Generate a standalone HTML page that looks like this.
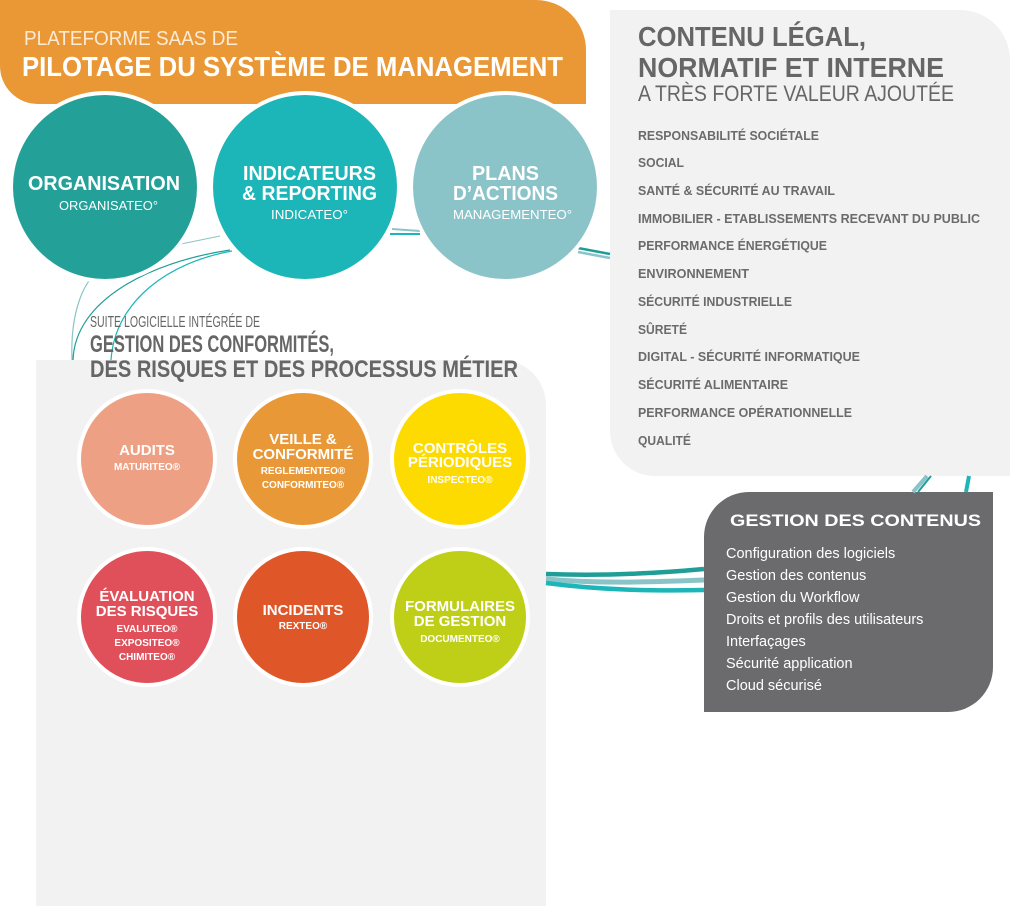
<!DOCTYPE html>
<html><head><meta charset="utf-8"><style>
html,body{margin:0;padding:0;background:#fff;}
svg{display:block;}
text{font-family:"Liberation Sans",sans-serif;}
</style></head><body>
<svg width="1010" height="906" viewBox="0 0 1010 906" xmlns="http://www.w3.org/2000/svg">
<!-- panels -->
<path d="M36 360 H501 A45 45 0 0 1 546 405 V906 H36 Z" fill="#f2f2f2"/>
<path d="M610 10 H960 A50 50 0 0 1 1010 60 V476 H655 A45 45 0 0 1 610 431 Z" fill="#f2f2f2"/>
<path d="M0 0 H536 A50 50 0 0 1 586 50 V104 H38 A38 38 0 0 1 0 66 Z" fill="#e99835"/>
<path d="M749 492 H993 V667 A45 45 0 0 1 948 712 H704 V537 A45 45 0 0 1 749 492 Z" fill="#6b6b6d"/>

<!-- connectors -->
<g fill="none">
<path d="M72 360 C70 310 85 280 98 272" stroke="#8bc4c8" stroke-width="1.2"/>
<path d="M73 360 C75 300 150 262 230 250" stroke="#1f9e98" stroke-width="1.2"/>
<path d="M111 360 C115 300 170 262 232 251" stroke="#1cb5b8" stroke-width="1.2"/>
<path d="M181 244 L220 236" stroke="#8bc4c8" stroke-width="1"/>
<path d="M392 229 L420 231" stroke="#8bc4c8" stroke-width="2"/>
<path d="M390 234 L420 234" stroke="#1cb5b8" stroke-width="2"/>
<path d="M578 248 L610 254" stroke="#1f9e98" stroke-width="2.5"/>
<path d="M578 252 L610 258" stroke="#8bc4c8" stroke-width="2.5"/>
<path d="M546 574 C600 576 650 574 704 569" stroke="#1f9e98" stroke-width="4.5"/>
<path d="M546 579 C600 584 650 582 704 580" stroke="#8bc4c8" stroke-width="5"/>
<path d="M546 583 C600 590 650 591 704 590" stroke="#1cb5b8" stroke-width="4.5"/>
<path d="M927 476 L913 492" stroke="#8bc4c8" stroke-width="4"/>
<path d="M931 476 L918 492" stroke="#1f9e98" stroke-width="2"/>
<path d="M969 476 L966 492" stroke="#1cb5b8" stroke-width="4"/>
</g>

<!-- top circles -->
<circle cx="105" cy="187" r="96" fill="#fff"/>
<circle cx="305" cy="187" r="96" fill="#fff"/>
<circle cx="505" cy="187" r="96" fill="#fff"/>
<circle cx="105" cy="187" r="92" fill="#23a199"/>
<circle cx="305" cy="187" r="92" fill="#1cb5b8"/>
<circle cx="505" cy="187" r="92" fill="#8bc4c8"/>

<g fill="#fff" text-anchor="start">
<text x="24" y="45" font-size="20" textLength="214" lengthAdjust="spacingAndGlyphs" fill="#fdebd5">PLATEFORME SAAS DE</text>
<text x="22" y="76" font-size="28" font-weight="bold" textLength="541" lengthAdjust="spacingAndGlyphs">PILOTAGE DU SYSTÈME DE MANAGEMENT</text>
<text x="28" y="190" font-size="20" font-weight="bold" textLength="152" lengthAdjust="spacingAndGlyphs">ORGANISATION</text>
<text x="59" y="210" font-size="13" textLength="99" lengthAdjust="spacingAndGlyphs">ORGANISATEO°</text>
<text x="243" y="180" font-size="20" font-weight="bold" textLength="133" lengthAdjust="spacingAndGlyphs">INDICATEURS</text>
<text x="242" y="200" font-size="20" font-weight="bold" textLength="135" lengthAdjust="spacingAndGlyphs">&amp; REPORTING</text>
<text x="271" y="219" font-size="13" textLength="77" lengthAdjust="spacingAndGlyphs">INDICATEO°</text>
<text x="472" y="180" font-size="20" font-weight="bold" textLength="67" lengthAdjust="spacingAndGlyphs">PLANS</text>
<text x="453" y="200" font-size="20" font-weight="bold" textLength="105" lengthAdjust="spacingAndGlyphs">D’ACTIONS</text>
<text x="453" y="219" font-size="13" textLength="119" lengthAdjust="spacingAndGlyphs">MANAGEMENTEO°</text>
</g>

<g fill="#666">
<text x="90" y="327" font-size="16" textLength="170" lengthAdjust="spacingAndGlyphs">SUITE LOGICIELLE INTÉGRÉE DE</text>
<text x="90" y="352" font-size="24" font-weight="bold" textLength="244" lengthAdjust="spacingAndGlyphs">GESTION DES CONFORMITÉS,</text>
<text x="90" y="377" font-size="24" font-weight="bold" textLength="428" lengthAdjust="spacingAndGlyphs">DES RISQUES ET DES PROCESSUS MÉTIER</text>
<text x="638" y="46" font-size="28" font-weight="bold" textLength="228" lengthAdjust="spacingAndGlyphs">CONTENU LÉGAL,</text>
<text x="638" y="77" font-size="28" font-weight="bold" textLength="306" lengthAdjust="spacingAndGlyphs">NORMATIF ET INTERNE</text>
<text x="638" y="101" font-size="22" textLength="316" lengthAdjust="spacingAndGlyphs">A TRÈS FORTE VALEUR AJOUTÉE</text>
</g>
<g fill="#6b6b6b" font-size="13" font-weight="bold">
<text x="638" y="140" textLength="181" lengthAdjust="spacingAndGlyphs">RESPONSABILITÉ SOCIÉTALE</text>
<text x="638" y="167" textLength="46" lengthAdjust="spacingAndGlyphs">SOCIAL</text>
<text x="638" y="195" textLength="197" lengthAdjust="spacingAndGlyphs">SANTÉ &amp; SÉCURITÉ AU TRAVAIL</text>
<text x="638" y="223" textLength="342" lengthAdjust="spacingAndGlyphs">IMMOBILIER - ETABLISSEMENTS RECEVANT DU PUBLIC</text>
<text x="638" y="250" textLength="189" lengthAdjust="spacingAndGlyphs">PERFORMANCE ÉNERGÉTIQUE</text>
<text x="638" y="278" textLength="111" lengthAdjust="spacingAndGlyphs">ENVIRONNEMENT</text>
<text x="638" y="306" textLength="154" lengthAdjust="spacingAndGlyphs">SÉCURITÉ INDUSTRIELLE</text>
<text x="638" y="334" textLength="49" lengthAdjust="spacingAndGlyphs">SÛRETÉ</text>
<text x="638" y="361" textLength="222" lengthAdjust="spacingAndGlyphs">DIGITAL - SÉCURITÉ INFORMATIQUE</text>
<text x="638" y="389" textLength="150" lengthAdjust="spacingAndGlyphs">SÉCURITÉ ALIMENTAIRE</text>
<text x="638" y="417" textLength="214" lengthAdjust="spacingAndGlyphs">PERFORMANCE OPÉRATIONNELLE</text>
<text x="638" y="445" textLength="53" lengthAdjust="spacingAndGlyphs">QUALITÉ</text>
</g>

<!-- small circles -->
<g stroke="#fff" stroke-width="4">
<circle cx="147" cy="459" r="68" fill="#eda083"/>
<circle cx="303" cy="459" r="68" fill="#e99837"/>
<circle cx="460" cy="459" r="68" fill="#fddb00"/>
<circle cx="147" cy="617" r="68" fill="#e0505b"/>
<circle cx="303" cy="617" r="68" fill="#df5628"/>
<circle cx="460" cy="617" r="68" fill="#bfcf17"/>
</g>
<g fill="#fff" text-anchor="middle" font-weight="bold">
<text x="147" y="455" font-size="15">AUDITS</text>
<text x="147" y="470" font-size="10">MATURITEO®</text>
<text x="303" y="444" font-size="15">VEILLE &amp;</text>
<text x="303" y="459" font-size="15">CONFORMITÉ</text>
<text x="303" y="474" font-size="10">REGLEMENTEO®</text>
<text x="303" y="488" font-size="10">CONFORMITEO®</text>
<text x="460" y="453" font-size="15">CONTRÔLES</text>
<text x="460" y="467" font-size="15">PÉRIODIQUES</text>
<text x="460" y="483" font-size="10">INSPECTEO®</text>
<text x="147" y="601" font-size="15">ÉVALUATION</text>
<text x="147" y="616" font-size="15">DES RISQUES</text>
<text x="147" y="632" font-size="10">EVALUTEO®</text>
<text x="147" y="646" font-size="10">EXPOSITEO®</text>
<text x="147" y="660" font-size="10">CHIMITEO®</text>
<text x="303" y="615" font-size="15">INCIDENTS</text>
<text x="303" y="629" font-size="10">REXTEO®</text>
<text x="460" y="611" font-size="15">FORMULAIRES</text>
<text x="460" y="626" font-size="15">DE GESTION</text>
<text x="460" y="642" font-size="10">DOCUMENTEO®</text>
</g>

<g fill="#fff">
<text x="730" y="526" font-size="17" font-weight="bold" textLength="251" lengthAdjust="spacingAndGlyphs">GESTION DES CONTENUS</text>
<g font-size="14.5">
<text x="726" y="558">Configuration des logiciels</text>
<text x="726" y="580">Gestion des contenus</text>
<text x="726" y="602">Gestion  du Workflow</text>
<text x="726" y="624">Droits et profils des utilisateurs</text>
<text x="726" y="646">Interfaçages</text>
<text x="726" y="668">Sécurité application</text>
<text x="726" y="690">Cloud sécurisé</text>
</g>
</g>
</svg>
</body></html>
